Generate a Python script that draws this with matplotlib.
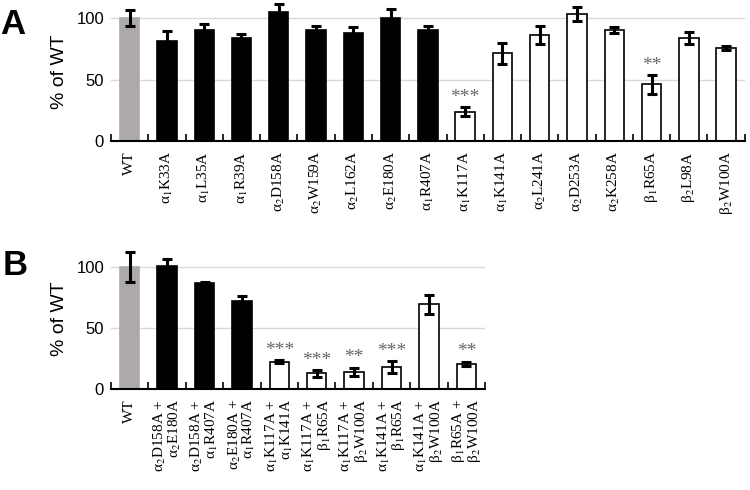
"""Two-panel bar chart: mutant activity as % of WT (single and double mutants)."""

import matplotlib
matplotlib.use("Agg")
import matplotlib.pyplot as plt  # noqa: E402
import numpy as np  # noqa: E402

plt.rcParams["mathtext.fontset"] = "stix"

# panel A: single mutants
a_labels = ["WT", "α$_1$K33A", "α$_1$L35A", "α$_1$R39A", "α$_2$D158A",
            "α$_2$W159A", "α$_2$L162A", "α$_2$E180A", "α$_1$R407A",
            "α$_1$K117A", "α$_1$K141A", "α$_2$L241A", "α$_2$D253A",
            "α$_2$K258A", "β$_1$R65A", "β$_2$L98A", "β$_2$W100A"]
a_values = [100, 81.4, 90, 83.8, 104.9, 90, 87.4, 100, 90, 24, 71.2, 86, 102.7, 90, 46.1, 83.8, 75.7]
a_errors = [6.5, 8, 5, 2.7, 6, 3.5, 5.3, 7, 3.5, 3.7, 8.6, 7.5, 5.7, 2.7, 7.5, 5, 1.4]
a_groups = ["wt"] + ["black"] * 8 + ["white"] * 8
a_stars = {9: "***", 14: "**"}

# panel B: double mutants
b_labels = ["WT",
            "α$_2$D158A +\nα$_2$E180A",
            "α$_2$D158A +\nα$_1$R407A",
            "α$_2$E180A +\nα$_1$R407A",
            "α$_1$K117A +\nα$_1$K141A",
            "α$_1$K117A +\nβ$_1$R65A",
            "α$_1$K117A +\nβ$_2$W100A",
            "α$_1$K141A +\nβ$_1$R65A",
            "α$_1$K141A +\nβ$_2$W100A",
            "β$_1$R65A +\nβ$_2$W100A"]
b_values = [100, 100.9, 86.7, 72.3, 22.6, 13, 14.4, 18.2, 69.3, 20.7]
b_errors = [12.3, 5, 1, 3.8, 1.3, 2.7, 3.3, 4.6, 7.6, 1.9]
b_groups = ["wt"] + ["black"] * 3 + ["white"] * 6
b_stars = {4: "***", 5: "***", 6: "**", 7: "***", 9: "**"}

FACE = {"wt": "#aea9a9", "black": "black", "white": "white"}
EDGE = {"wt": "#aea9a9", "black": "black", "white": "black"}


def draw(ax, labels, values, errors, groups, stars, ymax):
    x = np.arange(len(labels))
    ax.bar(x, values, width=0.52, color=[FACE[g] for g in groups],
           edgecolor=[EDGE[g] for g in groups], linewidth=1.2, zorder=2)
    ax.errorbar(x, values, yerr=errors, fmt="none", ecolor="black",
                elinewidth=2.2, capsize=3.5, capthick=2.2, zorder=3)
    for i, s in stars.items():  # significance marks above the error bar
        ax.text(i, values[i] + errors[i] + 1.0, s, ha="center", va="bottom",
                fontsize=14, color="#666666", family="Liberation Serif")
    ax.set_xlim(-0.5, len(labels) - 0.5)
    ax.set_ylim(0, ymax)
    ax.set_yticks([0, 50, 100], ["0", "50", "100"], family="Liberation Sans", fontsize=12)
    ax.set_xticks(x, labels, rotation=90, family="Liberation Serif", fontsize=11,
                  ha="center", va="top", multialignment="right", linespacing=0.9)
    ax.set_xticks(np.arange(len(labels) + 1) - 0.5, minor=True)
    ax.tick_params(axis="x", which="major", length=0, pad=7)
    ax.tick_params(axis="x", which="minor", direction="in", length=5, width=1.2)
    ax.tick_params(axis="y", length=0, pad=5)
    for v in (50, 100):
        ax.axhline(v, color="#d9d9d9", linewidth=1, zorder=1)
    for side in ("left", "right", "top"):
        ax.spines[side].set_visible(False)
    ax.spines["bottom"].set_linewidth(1.5)
    ax.spines["bottom"].set_zorder(4)
    ax.set_ylabel("% of WT", family="Liberation Sans", fontsize=14, labelpad=6)


fig = plt.figure(figsize=(7.5, 4.9), dpi=100)
ax_a = fig.add_axes([0.148, 0.7116, 0.845, 0.2824])
ax_b = fig.add_axes([0.148, 0.2055, 0.4987, 0.2878])
draw(ax_a, a_labels, a_values, a_errors, a_groups, a_stars, 112)
draw(ax_b, b_labels, b_values, b_errors, b_groups, b_stars, 115)

fig.text(0.0, 0.95, "A", fontsize=25, fontweight="bold", family="Liberation Sans", va="center")
fig.text(0.003, 0.459, "B", fontsize=25, fontweight="bold", family="Liberation Sans", va="center")

fig.savefig("out.png", dpi=100)
